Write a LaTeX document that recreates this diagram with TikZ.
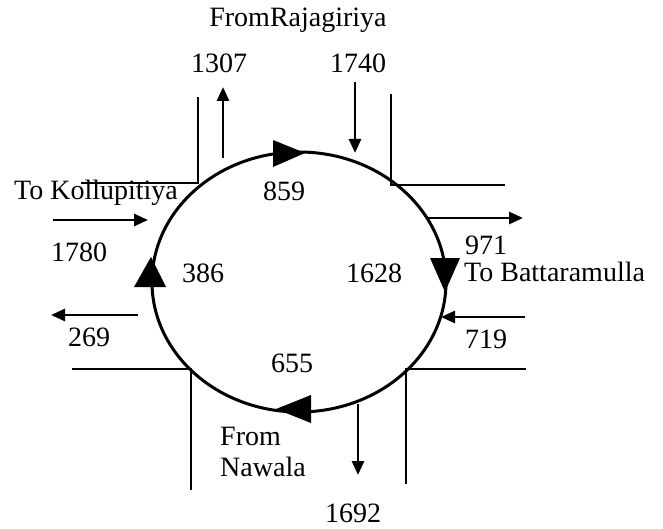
\documentclass[tikz,border=0pt]{standalone}
\usepackage{fontspec}
\setmainfont{Liberation Serif}
\usetikzlibrary{arrows.meta}
\begin{document}
\begin{tikzpicture}[x=1pt,y=-1pt,
  road/.style={line width=2.9pt,line cap=rect},
  flow/.style={line width=2.8pt,-{Triangle[length=14pt,width=12pt]}},
  lbl/.style={font=\fontsize{28}{32}\selectfont,inner sep=0pt,anchor=center},
  head/.style={fill=black}]
\useasboundingbox (0,0) rectangle (663,529);
% roundabout
\draw[line width=3pt] (299,282) ellipse [x radius=147, y radius=130];
\fill[head] (273,140) -- (305,153) -- (273,167) -- cycle;
\fill[head] (430,258) -- (445,292) -- (460,258) -- cycle;
\fill[head] (134,287) -- (151,257) -- (166,287) -- cycle;
\fill[head] (311,395) -- (276,409) -- (311,423) -- cycle;
% roads
\draw[road] (198,98) -- (198,183) -- (82,183);
\draw[road] (391,95) -- (391,185) -- (504,185);
\draw[road] (73,369) -- (191,369) -- (191,489);
\draw[road] (525,369) -- (406,369) -- (406,483);
% flows
\draw[flow] (223,158) -- (223,87);
\draw[flow] (355,82) -- (355,153);
\draw[flow] (53,220) -- (148,220);
\draw[flow] (428,218) -- (523,218);
\draw[flow] (138,315) -- (51,315);
\draw[flow] (525,317) -- (441,317);
\draw[flow] (358,404) -- (358,475);
% labels
\node[lbl] (rj) at (298,20) {FromRajagiriya};
\node[lbl] (a1307) at (219,63) {1307};
\node[lbl] (a1740) at (358,63) {1740};
\node[lbl,anchor=west] (kol) at (14,193) {To Kollupitiya};
\node[lbl] (a859) at (284,191) {859};
\node[lbl] (a1780) at (79,252) {1780};
\node[lbl] (a971) at (486,245) {971};
\node[lbl] (a386) at (203,273) {386};
\node[lbl] (a1628) at (374,273) {1628};
\node[lbl,anchor=west] (bat) at (464,272) {To Battaramulla};
\node[lbl] (a269) at (89,337) {269};
\node[lbl] (a719) at (486,339) {719};
\node[lbl] (a655) at (292,363) {655};
\node[lbl,anchor=west] (fr) at (220,436) {From};
\node[lbl,anchor=west] (nw) at (220,467) {Nawala};
\node[lbl] (a1692) at (353,513) {1692};
\end{tikzpicture}
\end{document}
